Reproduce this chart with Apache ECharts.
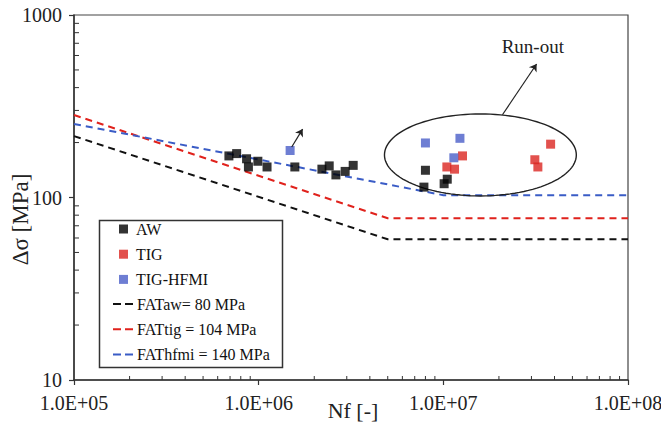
<!DOCTYPE html>
<html><head><meta charset="utf-8">
<script src="https://cdn.jsdelivr.net/npm/echarts@6/dist/echarts.min.js"></script>
<style>html,body{margin:0;padding:0;background:#fff}#c{width:661px;height:429px}</style>
</head><body><div id="c"></div>
<script>
// ---- data ----
const awN = [6.9e5, 7.6e5, 8.6e5, 8.8e5, 9.9e5, 1.11e6, 1.57e6, 2.2e6, 2.41e6, 2.62e6, 2.94e6, 3.25e6, 8.0e6, 7.85e6, 1.01e7, 1.05e7];
const awS = [169, 174, 163, 147, 158, 147, 147, 143, 149, 133, 139, 150, 141, 114, 119, 126];
const tigN = [1.045e7, 1.15e7, 1.27e7, 3.81e7, 3.13e7, 3.25e7];
const tigS = [147, 143, 169, 196, 161, 147];
const hfmiN = [1.48e6, 8.0e6, 1.23e7, 1.14e7];
const hfmiS = [181, 199, 211, 165];
const fatN = [1e5, 5e6, 1e8];
const fatAwS = [217, 59, 59];
const fatTigS = [283, 77, 77];
const fatHfmiN = [1e5, 1e7, 1e8];
const fatHfmiS = [253, 103, 103];
const xTickLabels = ['1.0E+05', '1.0E+06', '1.0E+07', '1.0E+08'];
const yTickLabels = ['10', '100', '1000'];
const seriesNames = ['AW', 'TIG', 'TIG-HFMI', 'FATaw= 80 MPa', 'FATtig = 104 MPa', 'FAThfmi = 140 MPa'];
// annotations, in data coordinates
const runoutEllipse = [4.8e6, 5.25e7, 287, 102];
const runoutArrow = [[2.09e7, 284], [3.2e7, 539]];
const runoutLabel = [3.05e7, 676];
const hfmiArrow = [[1.51e6, 189], [1.73e6, 237]];

const FONT = '"Liberation Serif", "Times New Roman", serif';
// log minor tick positions (2..9 within each decade)
const minorXTicks = [], minorYTicks = [];
for (let e = 5; e < 8; e++) for (let m = 2; m <= 9; m++) minorXTicks.push(m * Math.pow(10, e));
for (let e = 1; e < 3; e++) for (let m = 2; m <= 9; m++) minorYTicks.push(m * Math.pow(10, e));
const pair = (xs, ys) => xs.map((x, i) => [x, ys[i]]);

const chart = echarts.init(document.getElementById('c'), null, {renderer: 'svg'});
const axisLineStyle = {color: '#333', width: 1.5};
const dashIcon = 'path://M0,0L8,0L8,2L0,2Z M12,0L20,0L20,2L12,2Z';

function tickRenderer(dx, dy) {
  return (params, api) => {
    const p = api.coord([api.value(0), api.value(1)]);
    return {type: 'line', shape: {x1: p[0], y1: p[1], x2: p[0] + dx, y2: p[1] + dy},
      style: {stroke: '#333', lineWidth: 1}};
  };
}

chart.setOption({
  animation: false,
  backgroundColor: '#fff',
  grid: {left: 74, right: 33, top: 15, bottom: 49, show: true, borderColor: '#444', borderWidth: 1.2,
    outerBoundsMode: 'none', containLabel: false},
  xAxis: {type: 'log', logBase: 10, min: 1e5, max: 1e8,
     name: 'Nf [-]', nameLocation: 'middle', nameGap: 19, nameMoveOverlap: false,
     nameTextStyle: {fontFamily: FONT, fontSize: 22, color: '#222', padding: [0, 0, 0, 4]},
     axisLine: {onZero: false, lineStyle: axisLineStyle},
     axisTick: {length: 5, lineStyle: {color: '#333', width: 1.2}},
     axisLabel: {fontFamily: FONT, fontSize: 20, color: '#222', margin: 13,
       formatter: v => xTickLabels[Math.round(Math.log10(v)) - 5]},
     splitLine: {show: false}},
  yAxis: {type: 'log', logBase: 10, min: 10, max: 1000,
     name: 'Δσ [MPa]', nameLocation: 'middle', nameGap: 42, nameMoveOverlap: false,
     nameTextStyle: {fontFamily: FONT, fontSize: 23, color: '#222', padding: [0, 44, 0, 0]},
     axisLine: {onZero: false, lineStyle: axisLineStyle},
     axisTick: {length: 5, lineStyle: {color: '#333', width: 1.2}},
     axisLabel: {fontFamily: FONT, fontSize: 20, color: '#222', margin: 12,
       formatter: v => yTickLabels[Math.round(Math.log10(v)) - 1]},
     splitLine: {show: false}},
  legend: [
    {data: seriesNames.slice(0, 3), orient: 'vertical', left: 119, top: 221, padding: 0,
     itemWidth: 9, itemHeight: 9, itemGap: 9.2, icon: 'rect', selectedMode: false,
     textStyle: {fontFamily: FONT, fontSize: 16, color: '#111', lineHeight: 15.5, padding: [0, 0, 0, 3]}},
    {data: seriesNames.slice(3).map(n => ({name: n, icon: dashIcon})), orient: 'vertical', left: 113, top: 296, padding: 0,
     itemWidth: 20, itemHeight: 2, itemGap: 9.2, selectedMode: false,
     textStyle: {fontFamily: FONT, fontSize: 16, color: '#111', lineHeight: 15.5, padding: [0, 0, 0, -1]}}
  ],
  graphic: [
    {type: 'rect', left: 97, top: 218, shape: {width: 183, height: 147},
     style: {fill: 'none', stroke: '#333', lineWidth: 1.5}}
  ],
  series: [
    {name: seriesNames[3], type: 'line', data: pair(fatN, fatAwS), symbol: 'none', color: '#111',
     lineStyle: {type: [7, 5], width: 2, color: '#111'}, z: 2},
    {name: seriesNames[4], type: 'line', data: pair(fatN, fatTigS), symbol: 'none', color: '#e0221c',
     lineStyle: {type: [7, 5], width: 2, color: '#e0221c'}, z: 2},
    {name: seriesNames[5], type: 'line', data: pair(fatHfmiN, fatHfmiS), symbol: 'none', color: '#3a5cc6',
     lineStyle: {type: [7, 5], width: 2, color: '#3a5cc6'}, z: 2},
    {name: seriesNames[0], type: 'scatter', data: pair(awN, awS), symbol: 'rect', symbolSize: 9,
     itemStyle: {color: '#000'}, z: 4},
    {name: seriesNames[1], type: 'scatter', data: pair(tigN, tigS), symbol: 'rect', symbolSize: 9,
     itemStyle: {color: '#db2620'}, z: 4},
    {name: seriesNames[2], type: 'scatter', data: pair(hfmiN, hfmiS), symbol: 'rect', symbolSize: 9,
     itemStyle: {color: '#4a5ec8'}, z: 4},
    {name: 'minorX', type: 'custom', silent: true, clip: false, z: 5,
     data: minorXTicks.map(v => [v, 10]), encode: {x: 0, y: 1}, renderItem: tickRenderer(0, -4)},
    {name: 'minorY', type: 'custom', silent: true, clip: false, z: 5,
     data: minorYTicks.map(v => [1e5, v]), encode: {x: 0, y: 1}, renderItem: tickRenderer(5, 0)},
    {name: 'annotation', type: 'custom', coordinateSystem: 'cartesian2d', silent: true, z: 3,
     data: [runoutEllipse.concat(runoutLabel)],
     encode: {x: [0, 1], y: [2, 3]},
     renderItem: (params, api) => {
       const a = api.coord([api.value(0), api.value(2)]);
       const b = api.coord([api.value(1), api.value(3)]);
       const t = api.coord([api.value(4), api.value(5)]);
       const cx = (a[0] + b[0]) / 2, cy = (a[1] + b[1]) / 2;
       const rx = Math.abs(b[0] - a[0]) / 2, ry = Math.abs(b[1] - a[1]) / 2;
       const pts = [];
       for (let k = 0; k < 120; k++) {
         const th = k / 120 * 2 * Math.PI;
         pts.push([cx + rx * Math.cos(th), cy + ry * Math.sin(th)]);
       }
       return {type: 'group', children: [
         {type: 'polygon', shape: {points: pts}, style: {fill: 'none', stroke: '#222', lineWidth: 1.4}},
         {type: 'text', x: t[0], y: t[1], style: {text: 'Run-out', fill: '#222',
           font: '19px ' + FONT, align: 'center', verticalAlign: 'middle'}}
       ]};
     },
     markLine: {silent: true, symbol: ['none', 'arrow'], symbolSize: 7, animation: false,
       lineStyle: {color: '#222', type: 'solid', width: 1.2}, label: {show: false},
       data: [
         [{coord: runoutArrow[0]}, {coord: runoutArrow[1]}],
         [{coord: hfmiArrow[0]}, {coord: hfmiArrow[1]}]
       ]}
    }
  ]
});
</script>
</body></html>
